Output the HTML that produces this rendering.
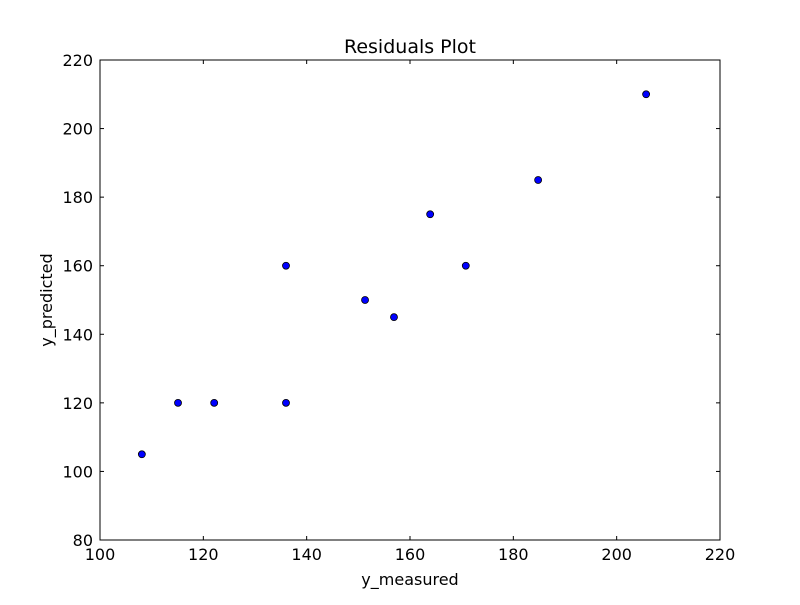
<!DOCTYPE html>
<html><head><meta charset="utf-8"><style>
body{margin:0;background:#fff}
svg text{font-family:"DejaVu Sans","Liberation Sans",sans-serif;fill:#000}
</style></head><body>
<svg id="chart" width="800" height="600" viewBox="0 0 800 600" xmlns="http://www.w3.org/2000/svg">
<rect width="800" height="600" fill="#fff"/>
<text x="410" y="53" font-size="19" text-anchor="middle">Residuals Plot</text>
<text x="410" y="585" font-size="16" text-anchor="middle">y_measured</text>
<text x="52" y="300" font-size="16" text-anchor="middle" transform="rotate(-90 52 300)">y_predicted</text>
<g id="ticks"></g>
<g id="points"></g>
<rect x="100" y="60" width="620" height="480" fill="none" stroke="#000" stroke-width="1"/>
</svg>
<script>
const xMeasured = [108.1, 115.1, 122.1, 136, 136, 151.3, 156.9, 163.9, 170.8, 184.8, 205.7];
const yPredicted = [105, 120, 120, 120, 160, 150, 145, 175, 160, 185, 210];
const xTicks = [100, 120, 140, 160, 180, 200, 220];
const yTicks = [80, 100, 120, 140, 160, 180, 200, 220];
const L=100,R=720,T=60,B=540;
const sx=v=>L+(v-100)/120*(R-L);
const sy=v=>B-(v-80)/140*(B-T);
const NS="http://www.w3.org/2000/svg";
const tg=document.getElementById('ticks'), pg=document.getElementById('points');
function mk(tag,attrs,parent){const e=document.createElementNS(NS,tag);for(const k in attrs)e.setAttribute(k,attrs[k]);parent.appendChild(e);return e;}
xTicks.forEach(v=>{
  const x=sx(v);
  const t1=mk('line',{x1:x,x2:x,y1:B,y2:B-4,stroke:'#000'},tg);
  
  
  const t2=mk('line',{x1:x,x2:x,y1:T,y2:T+4,stroke:'#000'},tg);
  
  
  const l=mk('text',{x:x,y:B+20,'font-size':16,'text-anchor':'middle'},tg);
  l.textContent=v;
  
  
});
yTicks.forEach(v=>{
  const y=sy(v);
  const t1=mk('line',{x1:L,x2:L+4,y1:y,y2:y,stroke:'#000'},tg);
  
  
  const t2=mk('line',{x1:R,x2:R-4,y1:y,y2:y,stroke:'#000'},tg);
  
  
  const l=mk('text',{x:L-7,y:y+6,'font-size':16,'text-anchor':'end'},tg);
  l.textContent=v;
  
  
});
xMeasured.forEach((v,i)=>{
  const c=mk('circle',{cx:sx(v),cy:sy(yPredicted[i]),r:3.5,fill:'#0000ff',stroke:'#000','stroke-width':0.8},pg);
  
  
});
</script>
</body></html>
